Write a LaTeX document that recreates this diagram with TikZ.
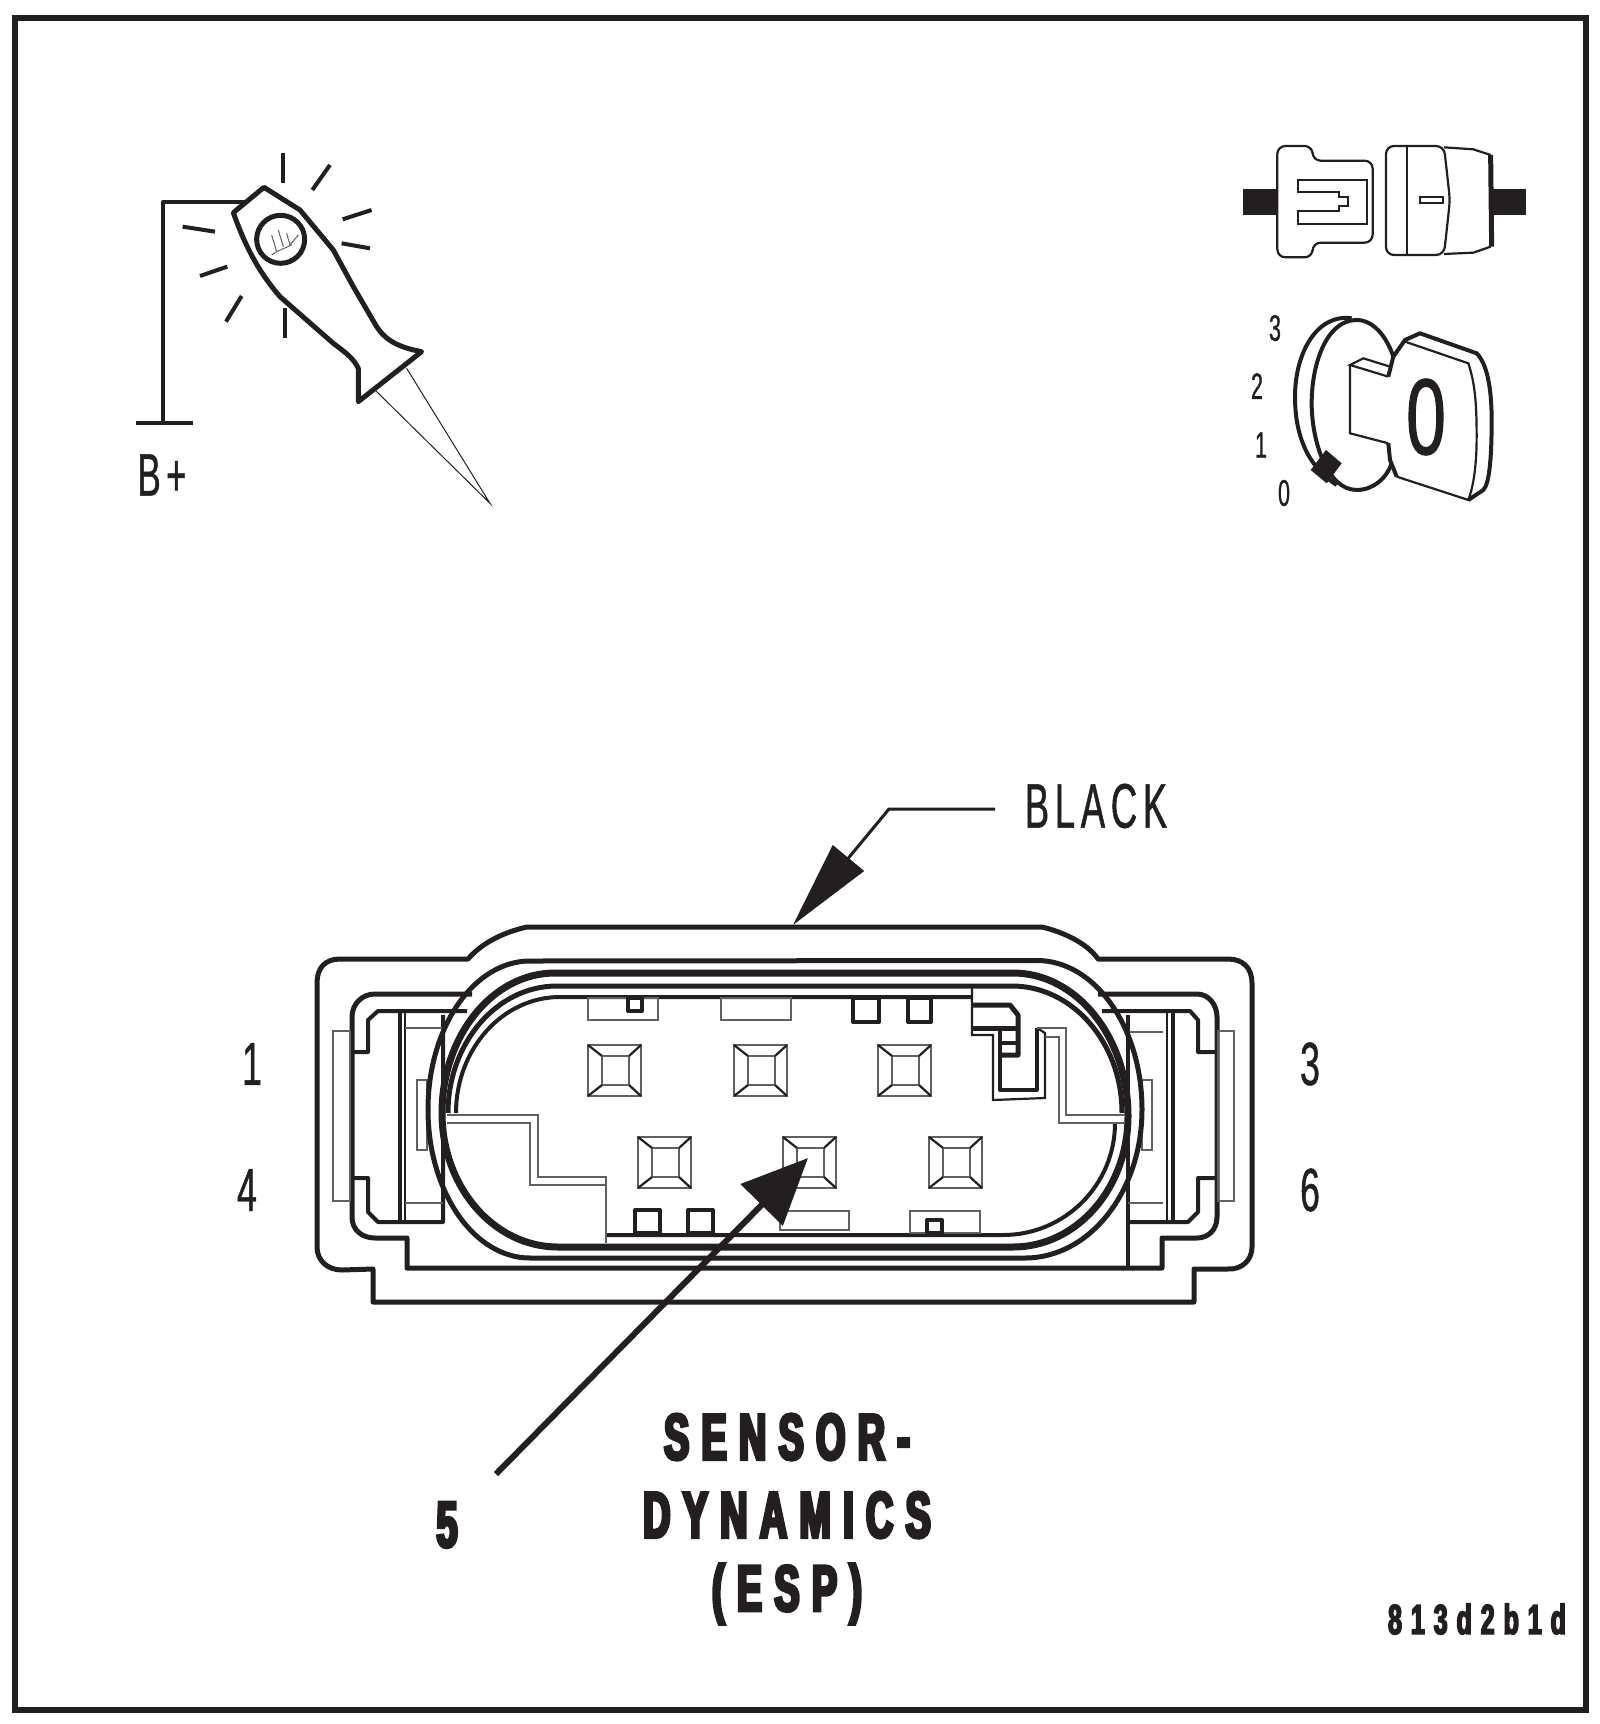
\documentclass[tikz,border=0pt]{standalone}
\usepackage{fontspec}
\usepackage{tikz}
\usetikzlibrary{arrows.meta}
\newfontfamily\thinfont[FakeStretch=.58,LetterSpace=9,FakeBold=.8]{Liberation Sans}
\newfontfamily\plugfont[FakeStretch=.66,FakeBold=1]{Liberation Sans}
\newfontfamily\heavyfont[FakeStretch=.58,LetterSpace=19,FakeBold=5]{Liberation Sans Bold}
\newfontfamily\codefont[FakeStretch=.6,LetterSpace=21,FakeBold=3.5]{Liberation Sans Bold}
\definecolor{ink}{HTML}{231F20}
\definecolor{ghost}{HTML}{606060}
\tikzstyle{heavyline}=[draw=ink,line width=5pt,line join=round]
\tikzstyle{medline}=[draw=ink,line width=4pt,line join=round]
\tikzstyle{fineline}=[draw=ink,line width=2.2pt,line join=miter]
\tikzstyle{greyline}=[draw=ghost,line width=2.2pt]
\tikzstyle{hairline}=[draw=ghost,line width=1pt]
\tikzstyle{thinlabel}=[inner sep=0pt,text=ink]
\tikzstyle{heavylabel}=[inner sep=0pt,text=ink,align=center]
\def\thinsize#1{\fontsize{#1}{#1}\selectfont\thinfont}
\def\heavysize{\fontsize{65}{65}\selectfont\heavyfont}
\begin{document}
\begin{tikzpicture}[x=1pt,y=-1pt]
      \useasboundingbox (0,0) rectangle (1600,1724);
      \draw[draw=ink,line width=6pt] (14.5,17.5) rectangle (1585.5,1710);

      % test lamp
      \begin{scope}[shift={(100,120)},scale=.3333]
        \coordinate (wireA) at (435,245);
        \coordinate (wireB) at (190,245);
        \coordinate (wireC) at (190,908);
        \coordinate (groundL) at (108,908);
        \coordinate (groundR) at (278,908);
        \coordinate (probeA) at (825,810);
        \coordinate (probeB) at (920,745);
        \coordinate (probeTip) at (1170,1150);
        \draw[medline] (wireA) -- (wireB) -- (wireC);
        \draw[medline] (groundL) -- (groundR);
        \draw[heavyline] (400,278) -- (492,202) -- (600,270) -- (700,390) -- (760,500) -- (830,620)
              .. controls (850,650) and (880,680) .. (965,695) -- (775,845) -- (775,745)
              .. controls (760,715) and (740,700) .. (700,670) -- (540,530)
              .. controls (480,460) and (440,390) .. (400,278) -- cycle;
        \draw[heavyline] (542,358) circle (72);
        \draw[hairline] (515,345) -- (530,395) -- (515,405)
                        (535,330) -- (550,380)
                        (560,340) -- (570,375) -- (595,345)
                        (530,395) -- (575,375);
        \draw[hairline,draw=ink] (probeA) -- (probeTip) -- (probeB);
        \foreach \xa/\ya/\xb/\yb in {550/100/550/190, 690/135/637/210, 815/270/728/298, 725/370/810/385,
                                     248/320/345/335, 300/468/382/440, 425/528/378/605, 555/565/555/655}
          \draw[medline] (\xa,\ya) -- (\xb,\yb);
      \end{scope}
      \node[thinlabel,font=\thinsize{60}] (batt) at (162,475) {B+};

      % connector halves
      \begin{scope}[shift={(1220,120)},scale=.3333]
        \fill[ink] (68,208) rectangle (172,285);
        \fill[ink] (815,208) rectangle (918,285);
        \draw[fineline,rounded corners=8pt] (172,78) -- (278,78) -- (278,122) -- (458,122) -- (458,368)
              -- (278,368) -- (278,412) -- (172,412) -- cycle;
        \draw[fineline] (235,180) -- (442,180) -- (442,312) -- (235,312) -- (235,272) -- (358,272) -- (358,257)
              -- (385,257) -- (385,232) -- (358,232) -- (358,217) -- (235,217) -- cycle;
        \draw[fineline,rounded corners=8pt] (498,78) -- (672,78) -- (690,240) -- (672,405) -- (498,405) -- cycle;
        \draw[fineline] (560,82) -- (560,405);
        \draw[fineline] (600,230) rectangle (670,250);
        \draw[fineline] (672,82) -- (760,88) -- (812,105);
        \draw[fineline] (672,402) -- (760,398) -- (812,380);
        \draw[heavyline] (812,105) -- (815,380);
        % ignition key
        \draw[medline] (395,595) .. controls (290,580) and (225,700) .. (225,830)
              .. controls (225,950) and (265,1040) .. (350,1095);
        \draw[medline] (520,710) .. controls (500,650) and (460,600) .. (410,600)
              .. controls (320,600) and (275,730) .. (275,850)
              .. controls (275,960) and (320,1110) .. (410,1110)
              .. controls (460,1110) and (500,1075) .. (515,1030);
        \fill[ink] (318,990) -- (365,1030) -- (320,1090) -- (272,1050) -- cycle;
        \draw[fineline] (505,770) -- (390,735) -- (430,715) -- (510,740);
        \draw[fineline] (390,735) -- (390,940) -- (505,970);
        \draw[medline] (520,710) -- (555,660) -- (600,640) -- (770,700) .. controls (800,730) and (815,800) .. (815,900)
              .. controls (815,1000) and (810,1090) .. (790,1110) -- (745,1140);
        \draw[fineline] (555,665) -- (745,730) .. controls (765,790) and (770,850) .. (770,950)
              .. controls (770,1040) and (760,1100) .. (745,1140) -- (530,1070);
        \draw[medline] (505,770) -- (520,710) (505,970) -- (510,1020) -- (530,1070);
      \end{scope}
      \node[thinlabel,font=\fontsize{108}{108}\selectfont\plugfont] (keyface) at (1426,417) {0};
      \node[thinlabel,font=\thinsize{37}] (posthree) at (1275,328) {3};
      \node[thinlabel,font=\thinsize{37}] (postwo) at (1257,386) {2};
      \node[thinlabel,font=\thinsize{37}] (posone) at (1261,445) {1};
      \node[thinlabel,font=\thinsize{37}] (poszero) at (1284,493) {0};

      % connector body
      \draw[heavyline] (527,927) .. controls (500,933) and (480,945) .. (468,959) -- (340,959)
            .. controls (325,959) and (317,968) .. (317,983) -- (317,1247)
            .. controls (317,1260) and (327,1270) .. (342,1270) -- (373,1269) -- (373,1302) -- (1194,1302) -- (1194,1269) -- (1227,1269)
            .. controls (1242,1270) and (1252,1260) .. (1252,1247) -- (1252,983)
            .. controls (1252,968) and (1243,959) .. (1228,959) -- (1098,959)
            .. controls (1087,943) and (1063,932) .. (1042,927) -- cycle;
      \draw[heavyline] (472,994) -- (375,994) .. controls (362,994) and (352,1004) .. (352,1017) -- (352,1217)
            .. controls (352,1230) and (362,1238) .. (375,1238) -- (407,1238) -- (407,1268) -- (1162,1268) -- (1162,1238) -- (1197,1238)
            .. controls (1208,1238) and (1217,1230) .. (1217,1217) -- (1217,1017)
            .. controls (1217,1004) and (1208,994) .. (1197,994) -- (1098,994);
      \draw[medline] (467,1011) -- (378,1011) -- (368,1020) -- (368,1052) -- (352,1052);
      \draw[medline] (352,1178) -- (368,1178) -- (368,1212) -- (378,1222) -- (443,1222) -- (443,1015);
      \draw[medline] (1102,1011) -- (1190,1011) -- (1198,1020) -- (1198,1052) -- (1217,1052);
      \draw[medline] (1217,1178) -- (1198,1178) -- (1198,1212) -- (1188,1222) -- (1128,1222);
      \draw[medline] (1128,1015) -- (1128,1268);
      \draw[medline] (400,1013) -- (400,1222);
      \draw[fineline] (405,1013) -- (405,1222);
      \draw[medline] (1173,1011) -- (1173,1222);
      \draw[fineline] (1167,1011) -- (1167,1222);
      \draw[greyline] (405,1028) -- (443,1028) (405,1203) -- (443,1203)
                      (1128,1032) -- (1163,1032) (1128,1203) -- (1163,1203)
                      (333,1031) rectangle (350,1201) (417,1080) rectangle (427,1150)
                      (1218,1031) rectangle (1234,1201) (1142,1080) rectangle (1152,1150);

      % seal rings
      \draw[heavyline] (530,961) arc[start angle=90,end angle=270,x radius=102pt,y radius=148.5pt] -- (1025,1258)
            arc[start angle=-90,end angle=0,x radius=117pt,y radius=148.5pt]
            arc[start angle=0,end angle=90,x radius=105pt,y radius=149pt] -- cycle;
      \draw[draw=ink,line width=7pt] (558,1247) arc[start angle=270,end angle=180,x radius=116pt,y radius=134pt]
            arc[start angle=180,end angle=90,x radius=113pt,y radius=140pt] -- (1013,973)
            arc[start angle=90,end angle=0,x radius=115pt,y radius=143pt]
            arc[start angle=0,end angle=-90,x radius=115pt,y radius=131pt] -- cycle;
      \draw[heavyline] (448,1113) arc[start angle=180,end angle=90,x radius=109pt,y radius=127pt] -- (1012,986)
            arc[start angle=90,end angle=0,x radius=110pt,y radius=127pt];
      \draw[medline] (456,1113) arc[start angle=180,end angle=90,x radius=104pt,y radius=116pt] -- (972,997);
      \draw[medline] (1115,1123) arc[start angle=0,end angle=-90,x radius=112pt,y radius=112pt] -- (606,1235);

      % keying outline
      \draw[greyline] (447,1115) -- (538,1115) -- (538,1177) -- (606,1177) -- (606,1243);
      \draw[greyline] (447,1123) -- (530,1123) -- (530,1185) -- (606,1185);
      \draw[fineline] (972,988) -- (972,1035) -- (993,1035) -- (993,1100) -- (1045,1098) -- (1045,1033) -- (1037,1028);
      \draw[heavyline] (972,1005) -- (1010,1005) -- (1018,1015) -- (1018,1055) -- (1002,1055);
      \draw[heavyline] (972,1028) -- (1018,1028);
      \draw[medline] (1000,1028) -- (1000,1090) -- (1037,1090) -- (1037,1028);
      \draw[medline] (1000,1043) -- (1018,1043);
      \draw[greyline] (1037,1028) -- (1066,1028) -- (1066,1115) -- (1125,1115);
      \draw[greyline] (1045,1037) -- (1059,1037) -- (1059,1123) -- (1125,1123);

      % tabs along the rim
      \foreach \xa/\ya/\xb/\yb in {588/998/658/1020, 721/998/791/1020, 780/1211/849/1230, 910/1211/980/1233}
        \draw[greyline] (\xa,\ya) rectangle (\xb,\yb);
      \foreach \xa/\ya/\xb/\yb in {628/998/642/1011, 853/998/879/1022, 908/998/931/1022,
                                   635/1210/660/1233, 688/1210/713/1233, 927/1220/942/1233}
        \draw[medline] (\xa,\ya) rectangle (\xb,\yb);

      % terminals
      \foreach \px/\py in {588/1045, 734/1045, 878/1045, 638/1137, 783/1137, 929/1137} {
        \draw[greyline] (\px,\py) rectangle +(53,51);
        \draw[greyline] (\px+14,\py+11) rectangle +(27,29);
        \draw[fineline] (\px,\py) -- +(14,11) (\px+53,\py) -- +(-12,11)
                        (\px,\py+51) -- +(14,-11) (\px+53,\py+51) -- +(-12,-11);
      }

      % callouts
      \coordinate (blackA) at (995,809);
      \coordinate (blackB) at (889,809);
      \coordinate (blackTip) at (793,925);
      \coordinate (pinTail) at (496,1474);
      \coordinate (pinTip) at (808,1158);
      \draw[draw=ink,line width=3pt,-{Triangle[length=87pt,width=40pt]}] (blackA) -- (blackB) -- (blackTip);
      \draw[draw=ink,line width=6pt,fill=ink,-{Triangle[length=66pt,width=58pt]}] (pinTail) -- (pinTip);

      \node[thinlabel,font=\thinsize{63}] (colour) at (1096,806) {BLACK};
      \node[thinlabel,font=\thinsize{61}] (pinone) at (252,1064) {1};
      \node[thinlabel,font=\thinsize{61}] (pinfour) at (247,1190) {4};
      \node[thinlabel,font=\thinsize{61}] (pinthree) at (1310,1064) {3};
      \node[thinlabel,font=\thinsize{61}] (pinsix) at (1310,1190) {6};
      \node[heavylabel,font=\heavysize] (pinfive) at (447,1525) {5};
      \node[heavylabel,font=\heavysize] (nameA) at (787,1437) {SENSOR-};
      \node[heavylabel,font=\heavysize] (nameB) at (787,1515) {DYNAMICS};
      \node[heavylabel,font=\heavysize] (nameC) at (787,1594) {(ESP)};
      \node[thinlabel,font=\fontsize{42}{42}\selectfont\codefont] (figcode) at (1477,1619) {813d2b1d};
    \end{tikzpicture}
\end{document}
